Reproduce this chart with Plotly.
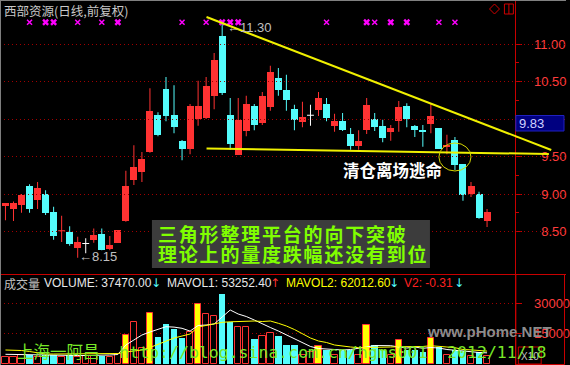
import plotly.graph_objects as go

W, H = 570, 365

# ---------------- data ----------------
opens  = [8.84, 8.80, 8.85, 9.11, 8.92, 9.00, 8.76, 8.51, 8.49, 8.28,
          8.34, 8.39, 8.47, 8.27, 8.35, 8.64, 9.19, 9.29, 9.56, 10.05,
          10.40, 10.05, 9.71, 9.60, 10.00, 10.01, 10.31, 11.11, 10.05, 9.52,
          9.84, 10.17, 9.95, 10.16, 10.55, 10.39, 10.13, 9.96, 10.05, 10.12,
          10.20, 9.91, 9.97, 9.80, 9.64, 9.85, 10.00, 9.91, 9.83, 9.97,
          10.17, 9.91, 9.85, 9.93, 9.88, 9.63, 9.72, 9.40, 9.00, 9.00, 8.64]
highs  = [8.88, 8.90, 9.00, 9.13, 9.16, 9.05, 8.83, 8.71, 8.57, 8.43,
          8.41, 8.54, 8.54, 8.44, 8.52, 9.31, 9.65, 9.56, 10.41, 10.09,
          10.56, 10.45, 9.72, 10.20, 10.51, 10.56, 10.88, 11.30, 10.28, 10.28,
          10.31, 10.20, 10.36, 10.71, 10.68, 10.59, 10.19, 10.23, 10.19, 10.36,
          10.28, 10.07, 10.08, 9.88, 9.85, 10.28, 10.08, 9.99, 9.92, 10.24,
          10.21, 9.92, 9.92, 10.20, 9.88, 9.79, 9.76, 9.40, 9.16, 9.03, 8.80]
lows   = [8.65, 8.64, 8.75, 8.75, 8.80, 8.72, 8.39, 8.36, 8.31, 8.15,
          8.21, 8.35, 8.25, 8.25, 8.35, 8.63, 9.12, 9.16, 9.55, 9.77,
          9.97, 9.81, 9.45, 9.53, 9.91, 10.00, 10.13, 10.32, 9.59, 9.52,
          9.77, 9.85, 9.92, 10.11, 10.31, 10.11, 9.85, 9.89, 9.91, 10.04,
          9.97, 9.83, 9.84, 9.59, 9.59, 9.80, 9.84, 9.69, 9.71, 9.83,
          9.89, 9.76, 9.63, 9.81, 9.60, 9.53, 9.32, 8.91, 8.96, 8.67, 8.56]
closes = [8.88, 8.88, 8.99, 8.80, 9.08, 8.75, 8.44, 8.51, 8.33, 8.36,
          8.34, 8.45, 8.25, 8.32, 8.52, 9.11, 9.36, 9.47, 10.11, 9.79,
          10.04, 9.89, 9.60, 10.17, 10.17, 10.44, 10.79, 10.35, 9.67, 9.99,
          10.20, 9.92, 10.31, 10.63, 10.39, 10.25, 9.99, 10.03, 10.05, 10.28,
          10.01, 9.97, 9.85, 9.64, 9.71, 10.19, 9.89, 9.75, 9.88, 10.16,
          10.00, 9.85, 9.83, 10.04, 9.60, 9.65, 9.39, 8.99, 9.11, 8.68, 8.76]
volumes = [32500, 32500, 42500, 42500, 32500, 42500, 42500, 32500, 42500, 32500,
           40000, 37500, 39000, 32500, 46000, 142500, 206000, 76000, 251000, 134000,
           196000, 172500, 129000, 159000, 297500, 249000, 237500, 347500, 206000, 181000,
           181000, 122500, 137500, 154000, 139000, 92500, 92500, 42500, 57500, 87500,
           67500, 42500, 67500, 67500, 42500, 192500, 92500, 67500, 42500, 117500,
           67500, 67500, 59000, 126000, 84000, 42500, 67500, 62500, 37500, 59000, 37470]
mavol1 = [46000, 45000, 43500, 42500, 42500, 42500, 42500, 41000, 40000, 40000,
          40000, 40000, 41000, 42500, 45000, 92500, 117500, 142500, 157500, 170000,
          184000, 182000, 176000, 162000, 190000, 192500, 197500, 232500, 267500, 247500,
          235000, 217500, 197500, 180000, 162500, 142500, 122500, 102500, 85000, 75000,
          72500, 70000, 67500, 70000, 75000, 82500, 90000, 90000, 89000, 82500,
          77500, 82500, 76000, 80000, 77500, 70000, 67500, 62500, 59000, 55000, 53252.4]
mavol2 = [67500, 67500, 65000, 60000, 52500, 47500, 47500, 47500, 47500, 47500,
          47500, 47500, 47500, 47500, 50000, 57500, 62500, 67500, 80000, 95000,
          112500, 127500, 137500, 147500, 182500, 190000, 197500, 206000, 208500, 210000,
          212500, 212500, 210000, 212500, 201000, 187500, 170000, 147500, 127500, 112500,
          105000, 92500, 86000, 82500, 79000, 79000, 79000, 80000, 82500, 84000,
          83500, 82500, 85000, 89000, 87500, 82500, 79000, 70000, 68000, 65000, 62012.6]
v2_value = -0.31
yellow_vol_days = [15, 18, 24, 39, 45, 49, 53]
white_doji_days = [10, 38]
signal_small = [3, 9, 12, 22, 25, 40, 46, 54, 56]
signal_bold = [5, 6, 14, 27, 28, 29, 45, 48, 50]
price_ticks = [8.5, 9.0, 9.5, 10.0, 10.5, 11.0]
price_ticks_covered = [10.0]   # label hidden behind the cursor-price box
vol_ticks = [150000, 300000]
vol_tick_labels = ["15000", "30000"]
trend_upper = ([25.05, 68.0], [11.36, 9.587])
trend_lower = ([25.05, 67.7], [9.607, 9.533])
circle_box = (54.0, 58.0, 9.307, 9.68)
cursor_price = "9.83"
title_text = "西部资源(日线,前复权)"
note_lines = ["三角形整理平台的向下突破", "理论上的量度跌幅还没有到位"]
note_exit = "清仓离场逃命"
watermark = "上海一阿昌  http://blog.sina.com.cn/hgms001  2012/11/18"

# ---------------- styles ----------------
RED = "#ff3232"
CYAN = "#54fcfc"
WHITE = "#ffffff"
YEL = "#ffff00"
AXRED = "#c80000"
GRIDRED = "#a00000"
LBL = "#ff3c3c"
FONT = "Liberation Sans"
CJK = "Noto Sans CJK SC"

n = len(opens)
idx = list(range(n))
XPX = 485 / 60.0
x_lo = -5.5 / XPX
x_hi = (519 - 5.5) / XPX
x3_hi = (W - 5.5) / XPX


def px_x(p):
    return p / W


def px_y(p):
    return 1 - p / H


def candle_color(i):
    if i in white_doji_days:
        return WHITE
    return RED if closes[i] >= opens[i] else CYAN


body_cols = [candle_color(i) for i in idx]

fig = go.Figure()

# candle bodies
fig.add_trace(go.Bar(
    x=idx, base=[min(o, c) for o, c in zip(opens, closes)],
    y=[abs(c - o) for o, c in zip(opens, closes)],
    width=0.87, marker=dict(color=body_cols, line=dict(width=0)),
    xaxis="x", yaxis="y", hoverinfo="skip", showlegend=False))

# wicks
for col in (RED, CYAN, WHITE):
    xs, ys = [], []
    for i in idx:
        if body_cols[i] != col:
            continue
        xs += [i, i, None]
        ys += [lows[i], highs[i], None]
        if opens[i] == closes[i]:
            xs += [i - 0.43, i + 0.43, None]
            ys += [opens[i], opens[i], None]
    fig.add_trace(go.Scatter(x=xs, y=ys, mode="lines", line=dict(color=col, width=1),
                             xaxis="x", yaxis="y", hoverinfo="skip", showlegend=False))

# signal markers
sig_level = 11.29
fig.add_trace(go.Scatter(x=signal_small, y=[sig_level] * len(signal_small), mode="markers",
                         marker=dict(symbol="x-thin", size=5, line=dict(color="#ff00ff", width=1.5)),
                         xaxis="x", yaxis="y", hoverinfo="skip", showlegend=False))
fig.add_trace(go.Scatter(x=signal_bold, y=[sig_level] * len(signal_bold), mode="markers",
                         marker=dict(symbol="x", size=6, color="#ff00ff"),
                         xaxis="x", yaxis="y", hoverinfo="skip", showlegend=False))

# trend lines (allowed to run over the price scale, as in the original)
for tx, ty in (trend_upper, trend_lower):
    fig.add_trace(go.Scatter(x=tx, y=ty, mode="lines", line=dict(color="#f0f000", width=2),
                             xaxis="x3", yaxis="y", hoverinfo="skip", showlegend=False))

# volume bars
vfill, vline, vlw = [], [], []
for i in idx:
    if i in yellow_vol_days:
        vfill.append(YEL); vline.append(RED); vlw.append(1)
    elif closes[i] >= opens[i]:
        vfill.append("#000000"); vline.append(RED); vlw.append(1)
    else:
        vfill.append(CYAN); vline.append(CYAN); vlw.append(0)
fig.add_trace(go.Bar(x=idx, y=volumes, width=0.8,
                     marker=dict(color=vfill, line=dict(color=vline, width=vlw)),
                     xaxis="x2", yaxis="y2", hoverinfo="skip", showlegend=False))
fig.add_trace(go.Scatter(x=idx, y=mavol1, mode="lines", line=dict(color=WHITE, width=1),
                         xaxis="x2", yaxis="y2", hoverinfo="skip", showlegend=False))
fig.add_trace(go.Scatter(x=idx, y=mavol2, mode="lines", line=dict(color=YEL, width=1),
                         xaxis="x2", yaxis="y2", hoverinfo="skip", showlegend=False))

FIG_SP = "\u2007"
price_labels = ["" if v in price_ticks_covered else (f"{v:.2f}").rjust(5, FIG_SP)
                for v in price_ticks]
minor_vals = [(a + b) / 2 for a, b in zip(price_ticks[:-1], price_ticks[1:])]

dom_x = [0, 519 / W]
top_dom = [px_y(274), 1]
vol_dom = [0, px_y(275)]
p_top = 11 + 44 / 75
p_bot = 11 - (274 - 44) / 75
v_top = (363.5 - 275) * 5000
v_bot = (363.5 - 365) * 5000

common_y = dict(side="right", showline=True, linecolor=AXRED, linewidth=1,
                ticks="outside", ticklen=6, tickcolor=AXRED, tickwidth=1,
                showgrid=True, gridcolor=GRIDRED, griddash="1px,3px", gridwidth=1,
                zeroline=False, tickfont=dict(family=FONT, size=13, color=LBL),
                ticklabelstandoff=9, fixedrange=True)

fig.update_layout(
    width=W, height=H, autosize=False,
    margin=dict(l=0, r=0, t=0, b=0, pad=0),
    paper_bgcolor="#000000", plot_bgcolor="rgba(0,0,0,0)",
    showlegend=False, barmode="overlay", bargap=0,
    xaxis=dict(domain=dom_x, range=[x_lo, x_hi], visible=False, anchor="y", fixedrange=True),
    xaxis3=dict(domain=[0, 1], range=[x_lo, x3_hi], visible=False, anchor="y", fixedrange=True),
    xaxis2=dict(domain=dom_x, range=[x_lo, x_hi], visible=False, anchor="y2", matches="x"),
    yaxis=dict(domain=top_dom, range=[p_bot, p_top], anchor="x",
               tickmode="array", tickvals=price_ticks, ticktext=price_labels,
               minor=dict(tickmode="array", tickvals=minor_vals, ticklen=3, tickcolor=AXRED,
                          ticks="outside", showgrid=False),
               **common_y),
    yaxis2=dict(domain=vol_dom, range=[v_bot, v_top], anchor="x2",
                tickmode="array", tickvals=vol_ticks, ticktext=vol_tick_labels,
                **common_y),
)

shapes = []
shapes.append(dict(type="line", xref="paper", yref="paper", x0=0, x1=1, y0=px_y(274.5), y1=px_y(274.5),
                   line=dict(color=AXRED, width=1)))
shapes.append(dict(type="line", xref="paper", yref="paper", x0=0, x1=1, y0=px_y(0.5), y1=px_y(0.5),
                   line=dict(color="#808080", width=1)))
shapes.append(dict(type="line", xref="paper", yref="paper", x0=px_x(0.5), x1=px_x(0.5), y0=0, y1=1,
                   line=dict(color="#808080", width=1)))
shapes.append(dict(type="rect", xref="paper", yref="paper", x0=px_x(519.5), x1=px_x(568.5),
                   y0=px_y(364.5), y1=px_y(274.5), line=dict(color=AXRED, width=1)))
shapes.append(dict(type="rect", xref="paper", yref="paper", x0=px_x(522), x1=px_x(545),
                   y0=px_y(364), y1=px_y(347), line=dict(color=AXRED, width=1)))
cx, cy = 498, 9
shapes.append(dict(type="path", xref="paper", yref="paper",
                   path=f"M {px_x(cx)} {px_y(cy-5)} L {px_x(cx+5)} {px_y(cy)} L {px_x(cx)} {px_y(cy+5)} L {px_x(cx-5)} {px_y(cy)} Z",
                   line=dict(color="#d00000", width=1)))
shapes.append(dict(type="rect", xref="paper", yref="paper", x0=px_x(508), x1=px_x(517),
                   y0=px_y(14), y1=px_y(4), line=dict(color="#d00000", width=1)))
shapes.append(dict(type="line", xref="paper", yref="paper", x0=px_x(512.5), x1=px_x(512.5),
                   y0=px_y(14), y1=px_y(4), line=dict(color="#d00000", width=1)))
shapes.append(dict(type="circle", xref="x", yref="y", x0=circle_box[0], x1=circle_box[1],
                   y0=circle_box[2], y1=circle_box[3], line=dict(color="#d8d800", width=1)))
shapes.append(dict(type="rect", xref="paper", yref="paper", x0=px_x(153), x1=px_x(433),
                   y0=px_y(268), y1=px_y(220), fillcolor="#3c3c3c", line=dict(width=0), layer="above"))
shapes.append(dict(type="rect", xref="paper", yref="paper", x0=px_x(519.5), x1=px_x(568),
                   y0=px_y(131), y1=px_y(115.5), fillcolor="#000080",
                   line=dict(color="#2020c0", width=1), layer="above"))
fig.update_layout(shapes=shapes)

ann = []


def txt(text, x, y, color, size, family=FONT, xanchor="left", **kw):
    ann.append(dict(text=text, xref="paper", yref="paper", x=px_x(x), y=px_y(y),
                    xanchor=xanchor, yanchor="middle", showarrow=False,
                    font=dict(family=family, size=size, color=color), **kw))


txt(title_text, 2, 10, "#c8c8c8", 12.5, CJK)
imax = max(idx, key=lambda i: highs[i])
imin = min(idx, key=lambda i: lows[i])
ann.append(dict(text=f"←{highs[imax]:.2f}", x=imax, y=highs[imax], xref="x", yref="y",
                xanchor="left", yanchor="middle", xshift=3, yshift=-6, showarrow=False,
                font=dict(family=FONT, size=13, color="#c0c0c0")))
ann.append(dict(text=f"←{lows[imin]:.2f}", x=imin, y=lows[imin], xref="x", yref="y",
                xanchor="left", yanchor="middle", xshift=-1, yshift=1, showarrow=False,
                font=dict(family=FONT, size=13, color="#c0c0c0")))
txt(f"<b>{note_exit}</b>", 343, 170, "#ffffff", 16.5, CJK)
spaced = '<span style="letter-spacing:1.8px"><b>{}</b></span>'
txt(spaced.format(note_lines[0]), 157, 233.5, "#80ff00", 19, CJK)
txt(spaced.format(note_lines[1]), 157, 253.5, "#80ff00", 19, CJK)
txt(cursor_price, 521, 123, "#d0d0ff", 13)

txt("成交量", 2, 283, "#c0c0c0", 12, CJK)
txt(f"VOLUME: {volumes[-1]:.2f}", 42, 283, "#e8e8e8", 12)
txt("↓", 150, 283, CYAN, 12, "DejaVu Sans")
txt(f"MAVOL1: {mavol1[-1]:.2f}", 166, 283, "#e8e8e8", 12)
txt("↑", 270, 283, RED, 12, "DejaVu Sans")
txt(f"MAVOL2: {mavol2[-1]:.2f}", 286, 283, YEL, 12)
txt("↓", 390, 283, CYAN, 12, "DejaVu Sans")
txt(f"V2: {v2_value:.2f}", 405, 283, "#ff2020", 12)
txt("↓", 455, 283, CYAN, 12, "DejaVu Sans")

txt("<b>www.pHome.NET</b>", 428, 331, "#8c8c8c", 15)
txt(watermark, 15, 352, "#78e828", 16.5, "DejaVu Sans Mono, " + CJK)
txt("X10", 533.5, 356, "#c0c0c0", 10, xanchor="center")

fig.update_layout(annotations=ann)

fig.write_html("out.html")
